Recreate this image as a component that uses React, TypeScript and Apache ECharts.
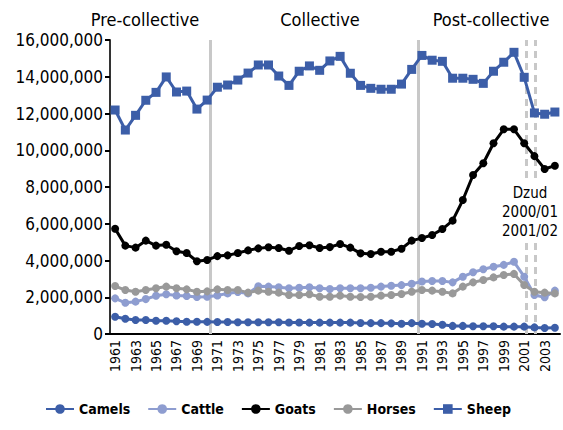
import React, { useEffect, useRef } from "react";
import * as echarts from "echarts";

const years: string[] = [];
for (let y = 1961; y <= 2004; y++) years.push(String(y));

const camels = [0.94, 0.83, 0.76, 0.76, 0.72, 0.72, 0.69, 0.67, 0.67, 0.66, 0.65, 0.65, 0.64, 0.64, 0.64,
  0.64, 0.64, 0.63, 0.63, 0.62, 0.62, 0.62, 0.62, 0.62, 0.60, 0.59, 0.59, 0.58,
  0.56, 0.59, 0.56, 0.54, 0.50, 0.44, 0.44, 0.42, 0.42, 0.42, 0.40, 0.40, 0.40, 0.36, 0.33, 0.34];
const cattle = [1.94, 1.70, 1.76, 1.90, 2.08, 2.16, 2.10, 2.07, 2.01, 2.03, 2.10, 2.21, 2.29, 2.21,
  2.60, 2.58, 2.54, 2.49, 2.52, 2.54, 2.49, 2.45, 2.49, 2.49, 2.49, 2.52, 2.58, 2.63, 2.66, 2.73, 2.86,
  2.88, 2.88, 2.81, 3.12, 3.36, 3.52, 3.66, 3.76, 3.93, 3.12, 2.12, 2.00, 2.36];
const goats = [5.73, 4.81, 4.70, 5.08, 4.81, 4.86, 4.50, 4.41, 3.96, 4.03, 4.24, 4.28, 4.41, 4.55, 4.66,
  4.72, 4.68, 4.53, 4.79, 4.83, 4.68, 4.73, 4.90, 4.70, 4.39, 4.35, 4.48, 4.48, 4.64, 5.08, 5.22,
  5.39, 5.71, 6.17, 7.29, 8.65, 9.29, 10.38, 11.14, 11.14, 10.38, 9.68, 8.98, 9.16];
const horses = [2.61, 2.39, 2.30, 2.39, 2.49, 2.58, 2.49, 2.43, 2.30, 2.32, 2.43, 2.39, 2.39, 2.25,
  2.36, 2.30, 2.25, 2.12, 2.12, 2.16, 2.03, 2.03, 2.09, 2.03, 2.01, 2.03, 2.09, 2.12, 2.18, 2.30, 2.39,
  2.36, 2.30, 2.21, 2.58, 2.81, 2.94, 3.08, 3.21, 3.27, 2.67, 2.30, 2.25, 2.21];
const sheep = [12.19, 11.10, 11.90, 12.72, 13.15, 13.99, 13.17, 13.22, 12.24, 12.73, 13.43, 13.55, 13.82, 14.20, 14.64,
  14.64, 14.04, 13.53, 14.30, 14.59, 14.35, 14.86, 15.11, 14.19, 13.53, 13.37, 13.32, 13.32, 13.60, 14.40, 15.16,
  14.90, 14.84, 13.92, 13.92, 13.86, 13.64, 14.30, 14.79, 15.33, 13.97, 12.03, 11.96, 12.08];

const eraLabels = ["Pre-collective", "Collective", "Post-collective"];
const periodBreaks = [9.8, 30.15]; // in category-band units
const dzudBreaks = [40.68, 41.59];
const dzudText = "Dzud\n2000/01\n2001/02";

const FONT = "'DejaVu Sans Condensed', 'DejaVu Sans', sans-serif";
const M = 1000000;

export default function App() {
  const ref = useRef<HTMLDivElement>(null);
  useEffect(() => {
    document.body.style.margin = "0";
    if (!ref.current) return;
    const chart = echarts.init(ref.current, null, { renderer: "svg" });
    const mk = (name: string, data: number[], color: string, symbol: string, size: number) => ({
      name,
      type: "line",
      data: data.map((v) => Math.round(v * M)),
      symbol,
      symbolSize: size,
      showAllSymbol: true,
      z: 3,
      lineStyle: { color, width: 3 },
      itemStyle: { color },
      emphasis: { disabled: true },
    });
    const blue = "#3c5ea8";
    const hdr = (text: string, x: number) => ({
      type: "text",
      x,
      y: 10,
      style: { text, fontSize: 18, fontFamily: FONT, fill: "#000", textAlign: "center" },
    });
    chart.setOption({
      animation: false,
      textStyle: { fontFamily: FONT },
      grid: { left: 110, right: 3, top: 40, bottom: 96, containLabel: false },
      legend: {
        data: ["Camels", "Cattle", "Goats", "Horses", "Sheep"],
        left: 40,
        top: 397,
        itemGap: 17,
        itemWidth: 28,
        itemHeight: 12,
        textStyle: { fontFamily: FONT, fontSize: 14, fontWeight: "bold", color: "#000" },
      },
      xAxis: [
        {
          type: "category",
          data: years,
          boundaryGap: true,
          axisLine: { lineStyle: { color: "#000", width: 2 } },
          axisTick: { interval: 0, length: 5, lineStyle: { color: "#000", width: 2 } },
          axisLabel: { interval: 1, rotate: 90, fontSize: 14, color: "#000", fontFamily: FONT, margin: 6 },
          splitLine: { show: false },
        },
        { type: "value", min: 0, max: 44, show: false },
      ],
      yAxis: {
        type: "value",
        min: 0,
        max: 16 * M,
        interval: 2 * M,
        axisLine: { show: true, lineStyle: { color: "#333", width: 2 } },
        axisTick: { show: true, length: 5, lineStyle: { color: "#000", width: 2 } },
        axisLabel: {
          fontSize: 17,
          color: "#000",
          fontFamily: FONT,
          margin: 7,
          formatter: (v: number) => v.toLocaleString("en-US"),
        },
        splitLine: { show: false },
      },
      series: [
        {
          type: "line",
          xAxisIndex: 1,
          data: [],
          silent: true,
          z: 1,
          markLine: {
            z: 1,
            silent: true,
            symbol: ["none", "none"],
            label: { show: false },
            lineStyle: { color: "#c8c8c8", width: 3, type: "solid" },
            data: [
              ...periodBreaks.map((x) => ({ xAxis: x })),
              ...dzudBreaks.map((x) => ({ xAxis: x, lineStyle: { color: "#c8c8c8", width: 3, type: [7, 5] } })),
            ],
          },
        },
        mk("Camels", camels, blue, "circle", 8),
        mk("Cattle", cattle, "#8e9dd0", "circle", 8),
        mk("Goats", goats, "#000000", "circle", 8),
        mk("Horses", horses, "#999999", "circle", 8),
        mk("Sheep", sheep, blue, "rect", 9),
      ],
      graphic: [
        hdr(eraLabels[0], 145),
        hdr(eraLabels[1], 320),
        hdr(eraLabels[2], 491),
        {
          type: "text",
          x: 530,
          y: 181,
          z: 100,
          style: {
            text: dzudText,
            fontSize: 15,
            lineHeight: 19,
            fontFamily: FONT,
            fill: "#000",
            textAlign: "center",
            backgroundColor: "#fff",
            padding: [2, 2],
          },
        },
      ],
    });
    return () => chart.dispose();
  }, []);
  return <div ref={ref} style={{ width: 563, height: 430 }} />;
}
